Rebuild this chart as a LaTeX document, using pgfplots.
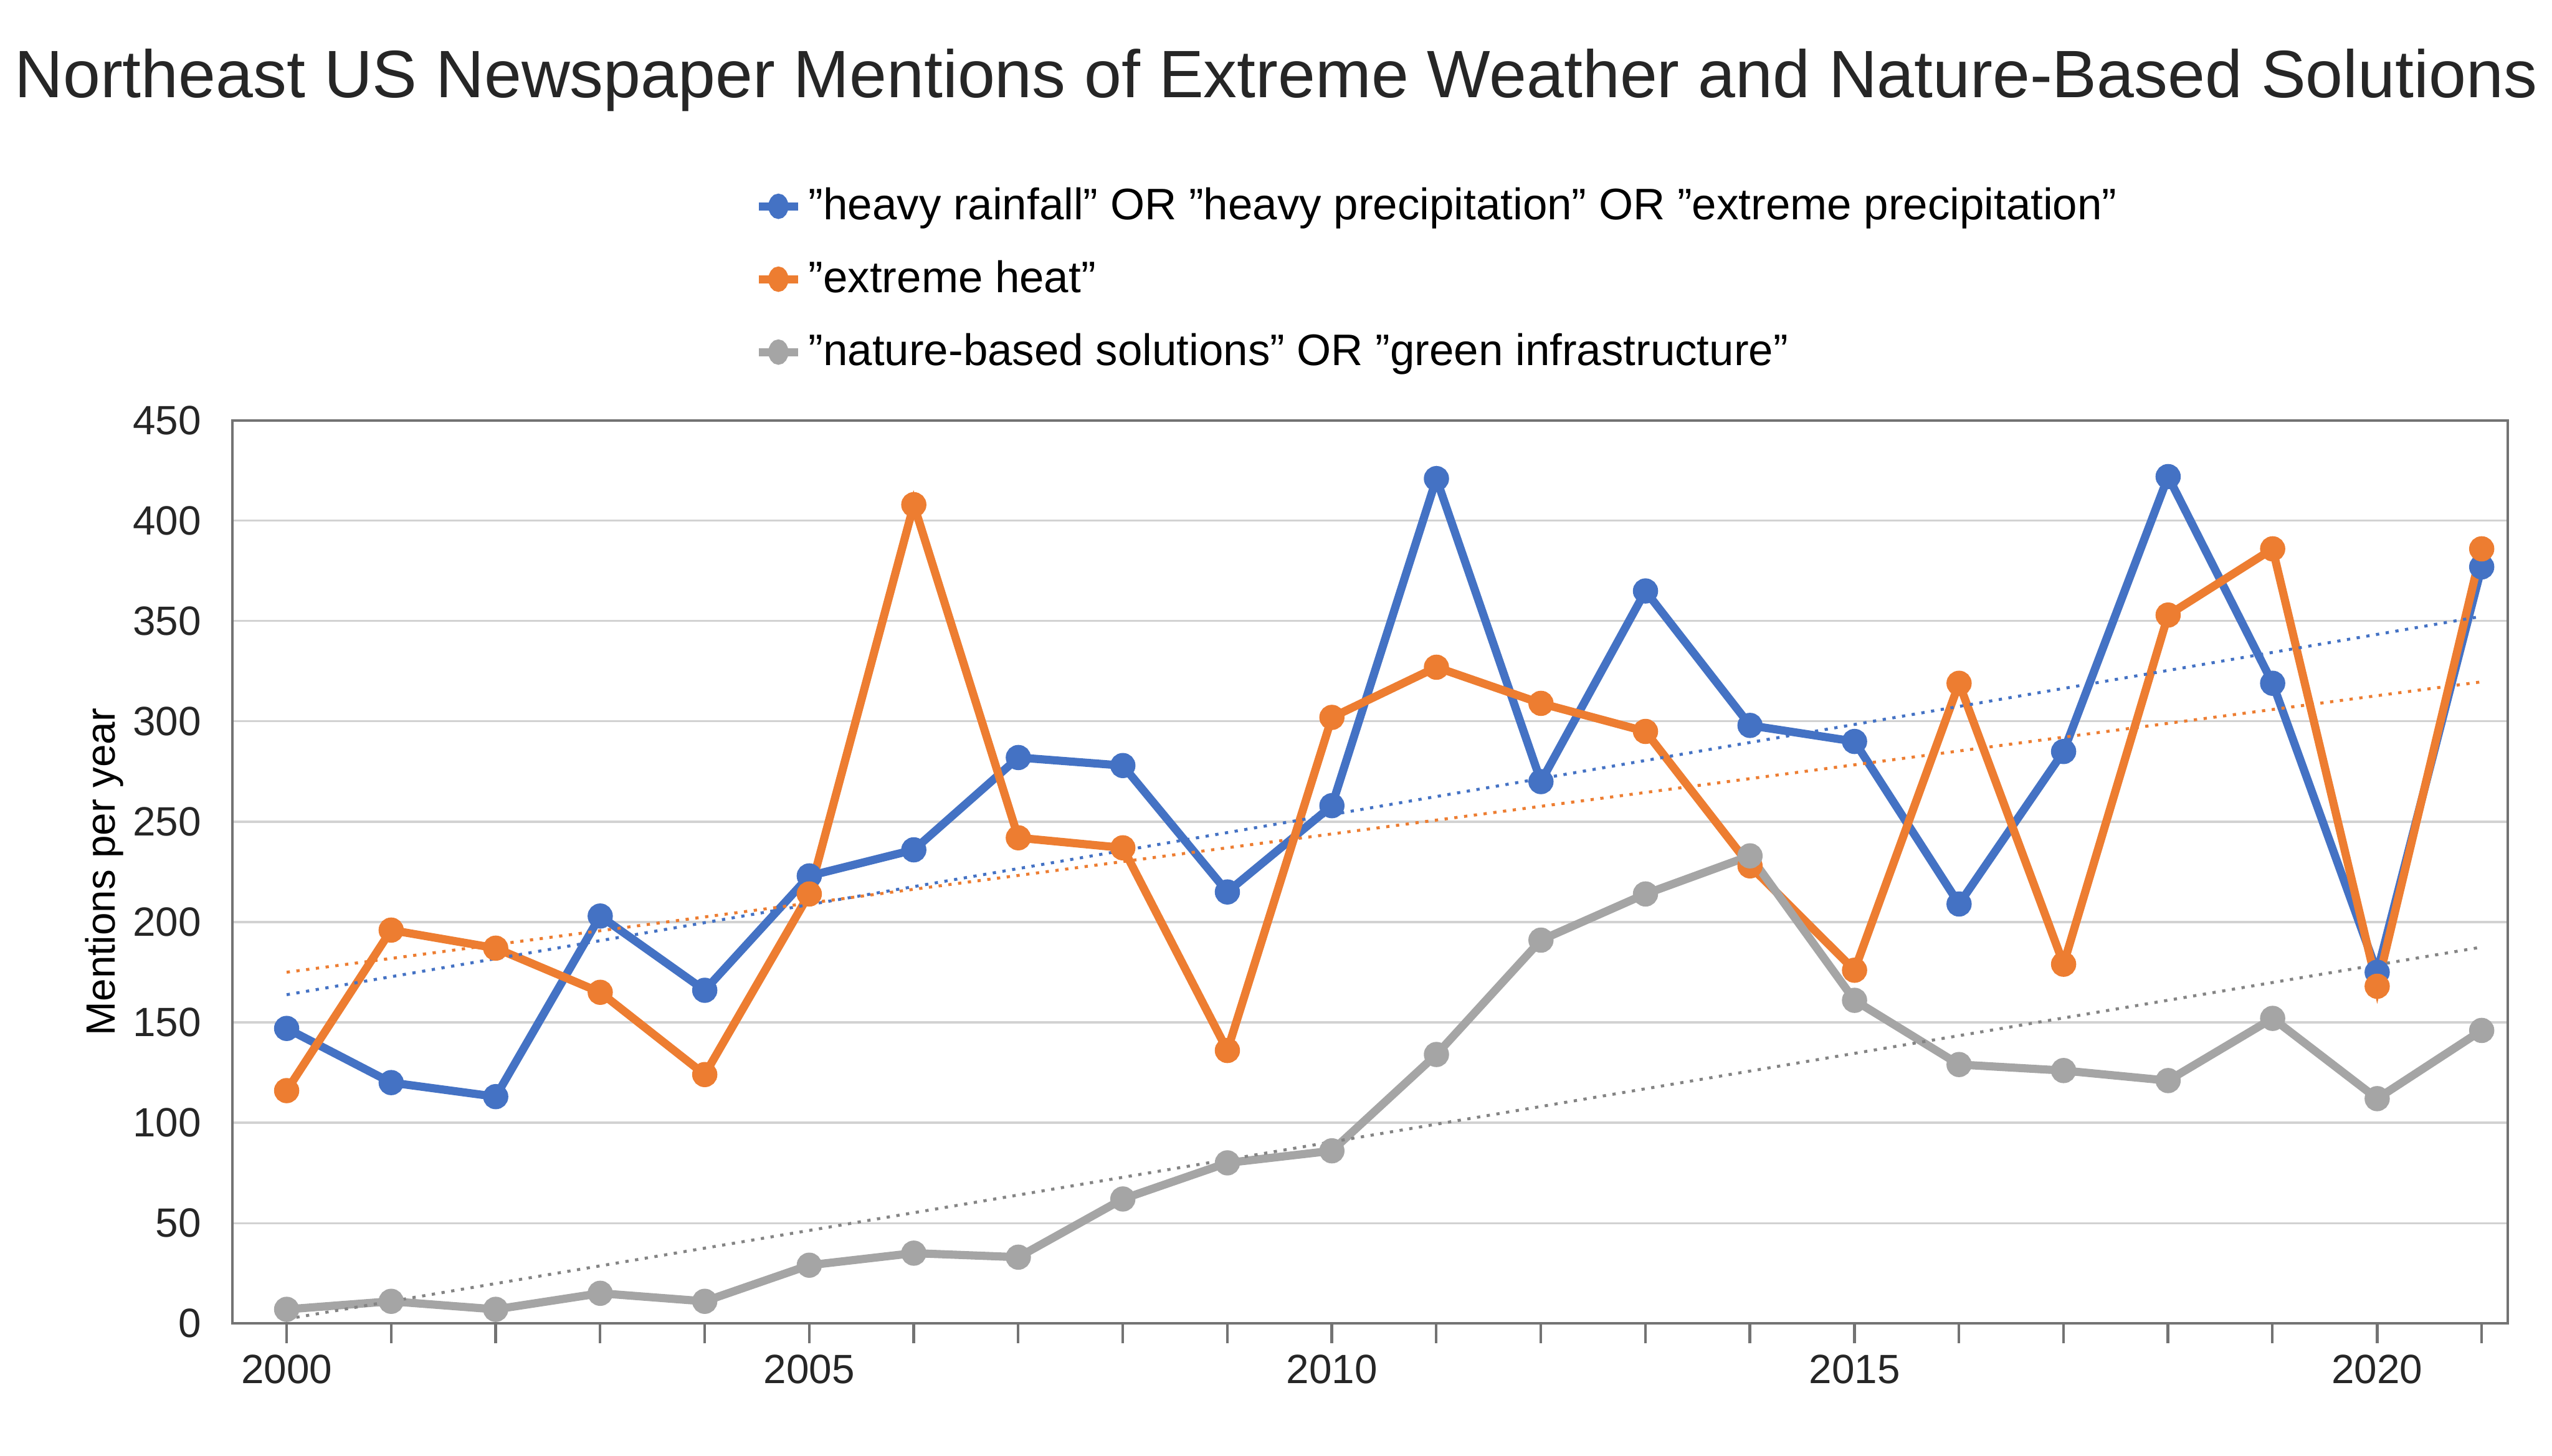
\documentclass[border=0pt]{standalone}
\usepackage{pgfplots}
\usepackage{pgfplotstable}
\pgfplotsset{compat=1.18}
\usepackage{fontspec}
\setmainfont{Liberation Sans}
\newcommand\q{\symbol{34}}
\definecolor{cb}{HTML}{4472C4}
\definecolor{co}{HTML}{ED7D31}
\definecolor{cg}{HTML}{A5A5A5}
\pgfplotstableread{
year b o g
2000 147 116 7
2001 120 196 11
2002 113 187 7
2003 203 165 15
2004 166 124 11
2005 223 214 29
2006 236 408 35
2007 282 242 33
2008 278 237 62
2009 215 136 80
2010 258 302 86
2011 421 327 134
2012 270 309 191
2013 365 295 214
2014 298 228 233
2015 290 176 161
2016 209 319 129
2017 285 179 126
2018 422 353 121
2019 319 386 152
2020 175 168 112
2021 377 386 146
}\tbl
\begin{document}
\begin{tikzpicture}
\path[use as bounding box] (-71pt,-40.5pt) rectangle (709pt,404.5pt);
\begin{axis}[at={(0,0)},anchor=south west,scale only axis,
 width=695.5pt,height=276pt,
 xmin=1999.48,xmax=2021.25,ymin=0,ymax=450,
 /pgf/number format/assume math mode=true,
 xtick={2000,2005,...,2020},minor xtick={2000,...,2021},
 xticklabel style={/pgf/number format/1000 sep={}},
 ytick={0,50,...,450},
 ymajorgrids, grid style={gray!35,line width=0.6pt},
 axis line style={gray!90!black,line width=0.8pt},
 tick style={gray!90!black,line width=0.8pt},
 xtick pos=bottom, tick align=outside,
 major tick length=6pt, minor tick length=6pt,
 ytick style={draw=none},
 ticklabel style={font=\fontsize{12.5}{14}\selectfont, text=black!85},
 ylabel={Mentions per year}, ylabel style={font=\fontsize{12.5}{14}\selectfont,yshift=-4pt},
 legend style={at={(0.225,1.04)},anchor=south west,draw=none,fill=none,
   font=\fontsize{13.5}{15}\selectfont,row sep=7pt,cells={anchor=west}},
 legend image post style={xscale=0.7},
 legend cell align=left,
 every axis plot/.append style={line width=2.5pt,mark=*,mark size=2.6pt},
]
\addplot[cb,mark options={fill=cb}] table[x=year,y=b]{\tbl};
\addlegendentry{\q heavy rainfall\q{} OR \q heavy precipitation\q{} OR \q extreme precipitation\q}
\addplot[co,mark options={fill=co}] table[x=year,y=o]{\tbl};
\addlegendentry{\q extreme heat\q}
\addplot[cg,mark options={fill=cg}] table[x=year,y=g]{\tbl};
\addlegendentry{\q nature-based solutions\q{} OR \q green infrastructure\q}
\addplot[cb,dash pattern=on 1pt off 2pt,line width=0.9pt,mark=none,forget plot] table[x=year,y={create col/linear regression={y=b}}]{\tbl};
\addplot[co,dash pattern=on 1pt off 2pt,line width=0.9pt,mark=none,forget plot] table[x=year,y={create col/linear regression={y=o}}]{\tbl};
\addplot[cg!80!black,dash pattern=on 1pt off 2pt,line width=0.9pt,mark=none,forget plot] table[x=year,y={create col/linear regression={y=g}}]{\tbl};
\end{axis}
\node[font=\fontsize{20.5}{24}\selectfont,text=black!85] at (319pt,380pt) {Northeast US Newspaper Mentions of Extreme Weather and Nature-Based Solutions};
\end{tikzpicture}
\end{document}
